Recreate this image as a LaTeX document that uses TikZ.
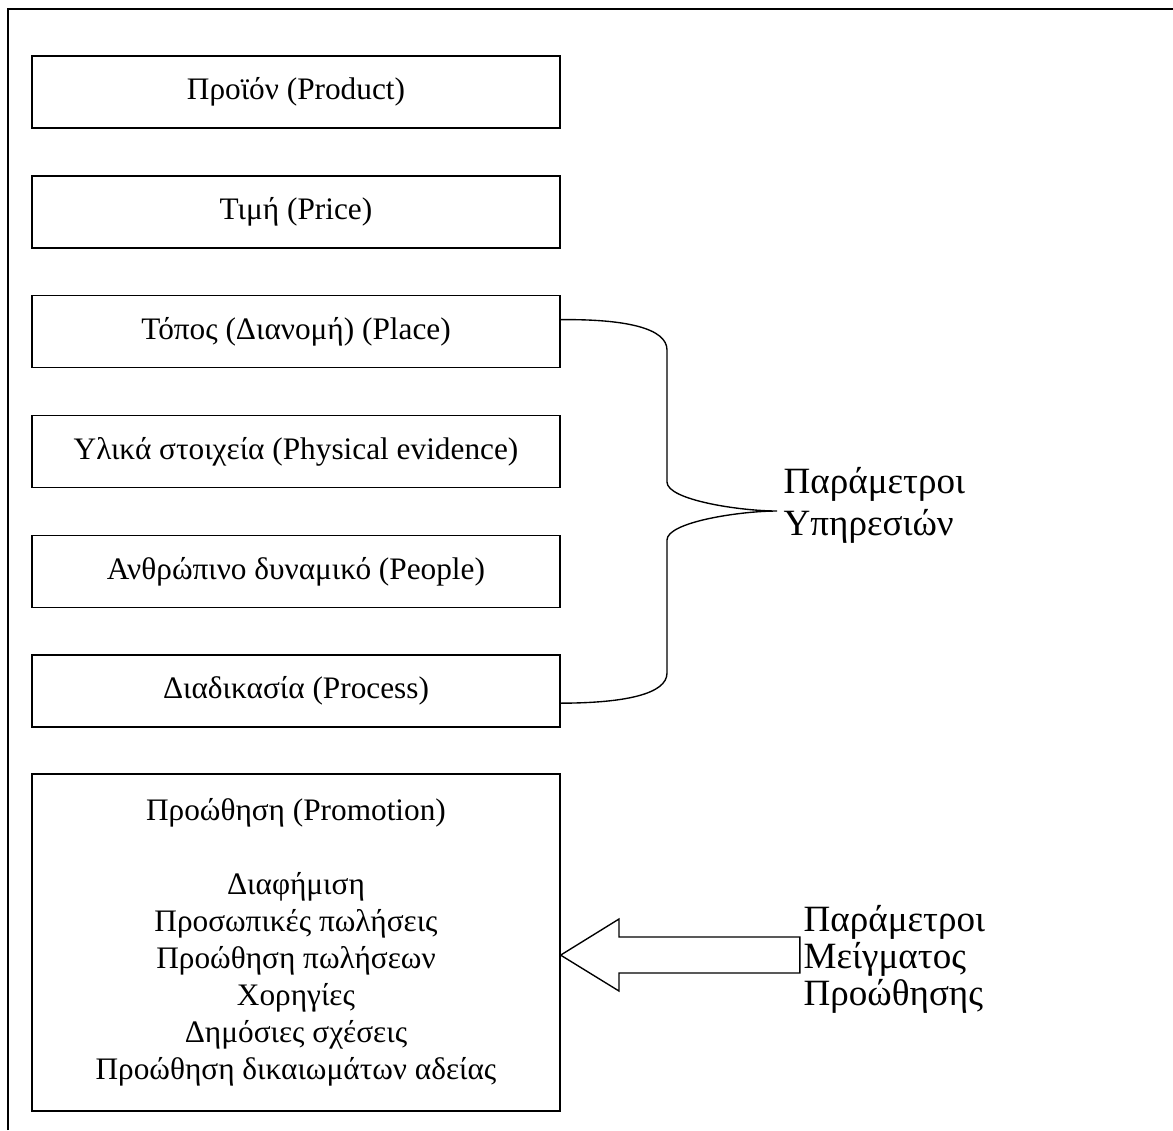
\documentclass[tikz,border=0pt]{standalone}
\usepackage{fontspec}
\setmainfont{Liberation Serif}
\usetikzlibrary{positioning}

\begin{document}
\begin{tikzpicture}[x=0.0128cm, y=-0.0128cm, node distance=1.534cm, on grid, line width=0.5pt,
                    mixbox/.style={draw, minimum width=6.758cm, minimum height=0.9216cm, inner sep=0pt,
                                   font=\fontsize{11.4}{13.46}\selectfont},
                    sidelbl/.style={anchor=west, align=left, inner sep=0pt}]

    \useasboundingbox (0,0) rectangle (1173,1130);

    % Frame
    \draw (8,1130) -- (8,9) -- (1173,9);

    % Nodes
    \node[mixbox] (prod) at (296,92) {Προϊόν (Product)};
    \node[mixbox, below=of prod] (price) {Τιμή (Price)};
    \node[mixbox, below=of price] (place) {Τόπος (Διανομή) (Place)};
    \node[mixbox, below=of place] (phys) {Υλικά στοιχεία (Physical evidence)};
    \node[mixbox, below=of phys] (people) {Ανθρώπινο δυναμικό (People)};
    \node[mixbox, below=of people] (proc) {Διαδικασία (Process)};
    \node[mixbox, below=3.219cm of proc, minimum height=4.314cm, align=center] (promo)
        {Προώθηση (Promotion)\\[13.46pt]
         Διαφήμιση\\ Προσωπικές πωλήσεις\\ Προώθηση πωλήσεων\\
         Χορηγίες\\ Δημόσιες σχέσεις\\ Προώθηση δικαιωμάτων αδείας};

    \coordinate (btip) at (777,511);
    \node[sidelbl, font=\fontsize{13.5}{15.3}\selectfont] (svclbl) at (783,505) {Παράμετροι\\Υπηρεσιών};
    \node[sidelbl, font=\fontsize{13.5}{13.46}\selectfont] (mixlbl) at (803,959) {Παράμετροι\\Μείγματος\\Προώθησης};

    % Brace
    \draw ([yshift=0.154cm]place.east) .. controls (625,319) and (667,328) .. (667,350) -- (667,482)
          .. controls (667,500) and (740,511) .. (btip)
          .. controls (740,511) and (667,522) .. (667,540) -- (667,673)
          .. controls (667,694) and (625,703) .. ([yshift=-0.154cm]proc.east);

    % Block arrow
    \coordinate (atip) at ([yshift=-0.16cm]promo.east);
    \coordinate (atail) at ([xshift=-0.04cm]mixlbl.west);
    \draw (atip) -- (619,919) -- (619,937) -- (atail |- 0,937) -- (atail |- 0,973)
          -- (619,973) -- (619,991) -- cycle;

\end{tikzpicture}
\end{document}
